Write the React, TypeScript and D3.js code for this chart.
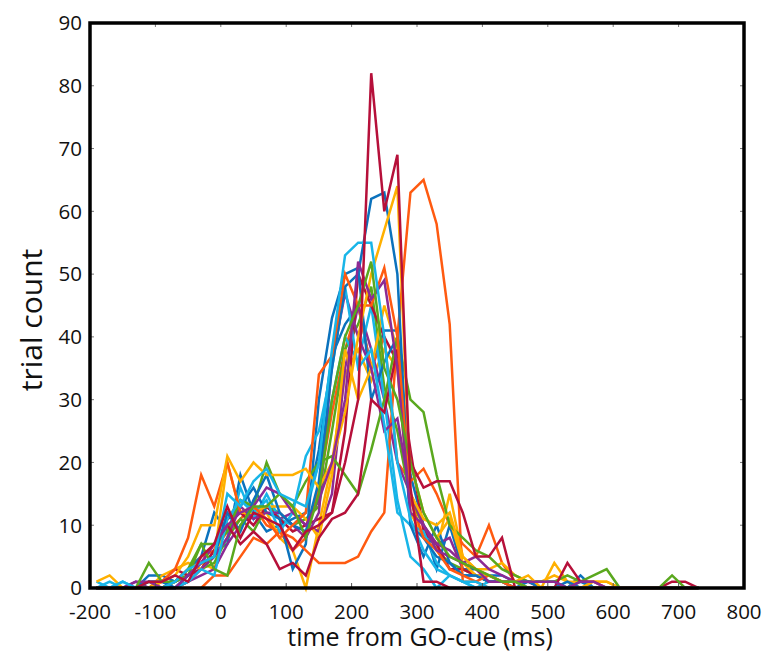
import * as d3 from "d3";

// bin centres (ms from GO-cue), 20 ms bins
const binCenters = [
  -190, -170, -150, -130, -110, -90, -70, -50, -30, -10,
  10, 30, 50, 70, 90, 110, 130, 150, 170, 190,
  210, 230, 250, 270, 290, 310, 330, 350, 370, 390,
  410, 430, 450, 470, 490, 510, 530, 550, 570, 590,
  610, 630, 650, 670, 690, 710, 730,
];

const xTicks = [-200, -100, 0, 100, 200, 300, 400, 500, 600, 700, 800];
const yTicks = [0, 10, 20, 30, 40, 50, 60, 70, 80, 90];

const blueA = [0,0,0,0,1, 1,0,2,4,5, 12,9,14,18,12, 10,9,17,35,48, 50,62,63,50,10, 8,5,4,2,2, 1,1,1,1,0, 0,1,0,0,0, 0,0,0,0,0, 0,0];
const orangeA = [0,0,0,0,0, 1,3,8,18,13, 20,12,13,11,8, 10,12,34,37,50, 45,45,51,40,14, 8,6,3,2,1, 2,1,0,0,0, 0,0,0,0,0, 0,0,0,0,0, 0,0];
const yellowA = [1,2,0,0,0, 1,2,5,10,10, 21,17,20,18,18, 18,19,16,20,28, 40,50,57,64,15, 11,10,12,5,3, 2,1,1,2,0, 0,0,0,0,0, 0,0,0,0,0, 0,0];
const purpleA = [0,0,0,1,1, 0,0,2,4,7, 10,12,13,16,15, 12,10,14,20,30, 52,46,49,35,12, 10,6,5,4,3, 1,1,1,1,1, 1,0,1,1,0, 0,0,0,0,0, 0,0];
const greenA = [0,0,0,0,4, 1,1,3,7,3, 2,10,13,13,15, 13,8,15,30,40, 45,52,35,30,20, 12,8,5,4,3, 2,1,1,0,0, 0,0,0,0,0, 0,0,0,0,0, 0,0];
const cyanA = [0,0,1,0,0, 0,1,3,4,5, 15,13,17,19,15, 14,13,20,38,53, 55,55,40,20,11, 6,3,2,1,1, 0,0,0,0,0, 0,0,0,0,0, 0,0,0,0,0, 0,0];
const redA = [0,0,0,0,1, 1,2,1,5,7, 13,8,12,11,10, 6,9,10,12,20, 30,82,60,69,16, 1,1,0,0,0, 0,0,0,0,0, 0,0,0,0,0, 0,0,0,0,0, 0,0];

const blueB = [0,0,0,0,2, 2,1,3,5,12, 9,13,16,12,11, 3,7,30,43,50, 51,30,36,40,10, 5,10,4,2,2, 1,1,0,1,1, 1,0,1,0,0, 0,0,0,0,0, 0,0];
const orangeB = [0,0,0,0,0, 0,0,0,0,2, 2,5,8,7,9, 8,6,4,4,4, 5,9,12,40,63, 65,58,42,1,1, 0,0,0,0,0, 0,0,0,0,0, 0,0,0,0,0, 0,0];
const yellowB = [0,0,0,0,0, 2,3,4,3,5, 20,12,12,13,13, 13,11,8,18,38, 30,35,45,38,20, 12,8,11,4,2, 2,1,1,0,0, 4,1,0,1,1, 0,0,0,0,0, 0,0];
const purpleB = [0,0,0,0,0, 0,0,1,3,5, 8,13,11,12,12, 10,8,12,36,47, 40,35,25,27,15, 10,7,6,4,5, 3,2,1,1,0, 0,0,0,0,0, 0,0,0,0,0, 0,0];
const greenB = [0,0,0,0,0, 0,1,2,7,7, 9,14,13,20,15, 13,17,20,21,18, 15,22,30,40,30, 28,18,10,8,6, 5,3,2,1,1, 1,2,1,2,3, 0,0,0,0,2, 0,0];
const cyanB = [0,1,0,0,0, 0,0,1,3,2, 11,14,12,14,9, 12,21,25,35,48, 35,38,26,12,10, 9,4,2,1,0, 0,0,0,0,0, 0,0,0,0,0, 0,0,0,0,0, 0,0];
const redB = [0,0,0,0,0, 1,3,2,4,7, 10,7,9,7,3, 4,2,8,11,12, 15,30,28,38,20, 16,17,17,12,5, 5,8,0,0,0, 0,4,1,1,0, 0,0,0,0,0, 0,0];

const blueC = [0,0,0,0,1, 1,0,2,3,6, 7,18,12,9,10, 11,12,22,37,42, 45,35,41,41,18, 10,3,10,3,3, 2,2,1,1,1, 1,0,2,0,0, 0,0,0,0,0, 0,0];
const orangeC = [0,0,0,0,0, 0,1,3,5,6, 9,11,13,10,9, 6,8,16,28,38, 45,35,40,20,17, 19,15,10,7,5, 10,4,1,1,0, 0,0,0,0,0, 0,0,0,0,0, 0,0];
const yellowC = [0,0,0,0,0, 0,1,2,4,3, 11,14,13,12,8, 6,0,10,20,34, 38,33,38,35,12, 8,6,15,5,3, 3,4,2,1,1, 2,1,1,1,1, 0,0,0,0,0, 0,0];
const purpleC = [0,0,0,1,0, 0,0,1,2,3, 7,10,12,13,11, 12,10,9,15,35, 45,38,30,20,15, 10,7,8,3,2, 2,1,1,0,0, 0,0,0,0,0, 0,0,0,0,0, 0,0];
const greenC = [0,0,0,0,1, 0,0,1,3,4, 8,11,9,13,12, 10,11,13,25,38, 42,48,32,25,14, 10,6,4,3,2, 1,1,0,0,0, 0,0,0,0,0, 0,0,0,0,0, 0,0];
const cyanC = [1,0,1,0,0, 0,1,2,3,5, 8,16,11,15,11, 10,12,20,30,40, 36,45,30,14,5, 3,0,2,1,0, 1,1,1,0,0, 0,0,0,0,0, 0,0,0,0,0, 0,0];
const redC = [0,0,0,0,0, 0,1,2,3,6, 11,12,10,13,11, 9,10,11,12,25, 50,45,40,36,22, 9,7,3,3,2, 1,1,0,0,0, 0,0,0,0,0, 0,0,0,0,1, 1,0];

const colors = ["#0b72bd", "#ff5a10", "#ffb000", "#8c2a94", "#5aa81e", "#18b5e8", "#b6103a"];

// drawn in this order, colour cycles per group
const series = [
  blueC, orangeC, yellowC, purpleC, greenC, cyanC, redC,
  blueB, orangeB, yellowB, purpleB, greenB, cyanB, redB,
  blueA, orangeA, yellowA, purpleA, greenA, cyanA, redA,
];

const W = 766;
const H = 652;
const left = 90, right = 744, top = 23, bottom = 588;
const font = "'Open Sans', 'DejaVu Sans', sans-serif";

export default function App() {
  const x = d3.scaleLinear().domain([-200, 800]).range([left, right]);
  const y = d3.scaleLinear().domain([0, 90]).range([bottom, top]);

  const line = d3.line<number>()
    .x((_, i) => x(binCenters[i]))
    .y((d) => y(d));

  return (
    <svg width={W} height={H} style={{ position: "absolute", left: 0, top: 0, background: "#fff" }}>
      <g>
        {series.map((s, i) => (
          <path
            key={i}
            d={line(s) || ""}
            fill="none"
            stroke={colors[i % colors.length]}
            strokeWidth={2.5}
            strokeLinejoin="miter"
          />
        ))}
      </g>

      {/* ticks, pointing inwards */}
      {xTicks.map((t) => (
        <g key={"x" + t}>
          <line x1={x(t)} x2={x(t)} y1={bottom} y2={bottom - 5} stroke="#555" strokeWidth={1} />
          <line x1={x(t)} x2={x(t)} y1={top} y2={top + 4} stroke="#777" strokeWidth={1} />
          <text
            x={x(t)}
            y={619}
            textAnchor="middle"
            fontFamily={font}
            fontSize={20.5}
            fill="#111"
          >
            {t}
          </text>
        </g>
      ))}
      {yTicks.map((t) => (
        <g key={"y" + t}>
          <line x1={left} x2={left + 4} y1={y(t)} y2={y(t)} stroke="#777" strokeWidth={1} />
          <line x1={right} x2={right - 4} y1={y(t)} y2={y(t)} stroke="#777" strokeWidth={1} />
          <text
            x={82}
            y={y(t)}
            dy="0.36em"
            textAnchor="end"
            fontFamily={font}
            fontSize={20.5}
            fill="#111"
          >
            {t}
          </text>
        </g>
      ))}

      <rect
        x={left}
        y={top}
        width={right - left}
        height={bottom - top}
        fill="none"
        stroke="#000"
        strokeWidth={3.5}
      />

      <text
        x={420}
        y={646}
        textAnchor="middle"
        fontFamily={font}
        fontSize={25}
        fill="#111"
      >
        time from GO-cue (ms)
      </text>
      <text
        transform="translate(42,320) rotate(-90)"
        textAnchor="middle"
        fontFamily={font}
        fontSize={30}
        fill="#111"
      >
        trial count
      </text>
    </svg>
  );
}
